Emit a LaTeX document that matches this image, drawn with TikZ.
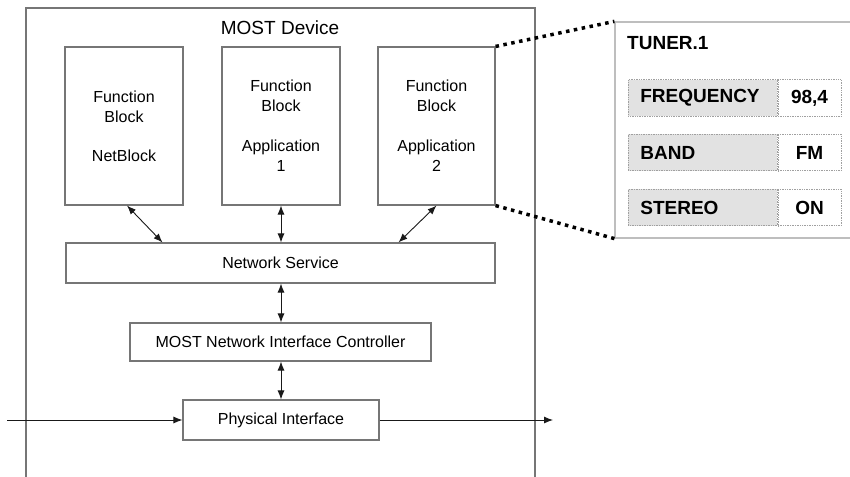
\documentclass[tikz,border=0pt]{standalone}
\usepackage{fontspec}
\setmainfont{Liberation Sans}
\usetikzlibrary{arrows.meta}
\definecolor{boxline}{RGB}{118,118,118}
\definecolor{arrowc}{RGB}{25,25,25}
\definecolor{panelline}{RGB}{190,190,190}
\definecolor{keyfill}{RGB}{226,226,226}
\definecolor{cellline}{RGB}{160,160,160}
\tikzset{
  plain/.style={font=\fontsize{16}{20}\selectfont},
  heavy/.style={font=\fontsize{19}{22}\selectfont\bfseries},
  blockbox/.style={draw=boxline, line width=1.1pt, fill=white, inner sep=0pt, align=center, plain},
  biarrow/.style={draw=arrowc, line width=0.9pt, {Latex[length=9pt,width=7pt]}-{Latex[length=9pt,width=7pt]}},
  onearrow/.style={draw=arrowc, line width=0.9pt, -{Latex[length=9pt,width=7pt]}},
  zoomline/.style={draw=black, line width=3.5pt, dash pattern=on 3.5pt off 4.5pt},
  keycell/.style={draw=cellline, densely dotted, line width=0.7pt, fill=keyfill,
    minimum height=36.5pt, inner ysep=0pt, inner xsep=12pt, text width=125pt, align=left, heavy},
  valcell/.style={draw=cellline, densely dotted, line width=0.7pt, fill=white,
    minimum width=63pt, minimum height=36.5pt, inner sep=0pt, align=center, heavy},
}
\begin{document}
\begin{tikzpicture}[x=1pt, y=-1pt]
  \clip (0,0) rectangle (850,476);

  % device frame and title
  \node[draw=boxline, line width=1.1pt, minimum width=509pt, minimum height=492pt, inner sep=0pt]
    (device) at (280.5,254) {};
  \node[font=\fontsize{19}{22}\selectfont] (title) at (280,28) {MOST Device};

  % function blocks
  \node[blockbox, minimum width=118pt, minimum height=158pt] (fb1) at (124,126)
    {Function\\Block\\[19pt]NetBlock};
  \node[blockbox, minimum width=118pt, minimum height=158pt] (fb2) at (281,126)
    {Function\\Block\\[20pt]Application\\1};
  \node[blockbox, minimum width=117pt, minimum height=158pt] (fb3) at (436.5,126)
    {Function\\Block\\[20pt]Application\\2};

  % protocol stack
  \node[blockbox, minimum width=429pt, minimum height=40pt] (ns) at (280.5,263) {Network Service};
  \node[blockbox, minimum width=301pt, minimum height=38pt] (nic) at (280.5,342) {MOST Network Interface Controller};
  \node[blockbox, minimum width=196pt, minimum height=40pt] (pi) at (281,420) {Physical Interface};

  % connections inside the device
  \draw[biarrow] ([xshift=3pt]fb1.south) -- ([xshift=-118pt]ns.north);
  \draw[biarrow] (fb2.south) -- (fb2.south |- ns.north);
  \draw[biarrow] (fb3.south) -- ([xshift=118pt]ns.north);
  \draw[biarrow] (ns.south -| pi.north) -- (nic.north -| pi.north);
  \draw[biarrow] (nic.south -| pi.north) -- (pi.north);

  % ring in / ring out
  \coordinate (ringin) at (7,420);
  \coordinate (ringout) at (553,420);
  \draw[onearrow] (ringin) -- (pi.west);
  \draw[onearrow] (pi.east) -- (ringout);

  % detail panel of the tuner function block
  \node[draw=panelline, line width=1.2pt, fill=white, minimum width=245pt, minimum height=216pt, inner sep=0pt]
    (panel) at (737.5,130) {};
  \draw[zoomline] (fb3.north east) -- (panel.north west);
  \draw[zoomline] (fb3.south east) -- (panel.south west);

  \node[heavy, anchor=west, inner sep=0pt] (tuner) at (627,43) {TUNER.1};

  \node[keycell, anchor=west] (freqk) at (628,98) {FREQUENCY};
  \node[valcell, anchor=west] (freqv) at (freqk.east) {98,4};
  \node[keycell, anchor=west] (bandk) at (628,152.5) {BAND};
  \node[valcell, anchor=west] (bandv) at (bandk.east) {FM};
  \node[keycell, anchor=west] (sterk) at (628,207.5) {STEREO};
  \node[valcell, anchor=west] (sterv) at (sterk.east) {ON};
\end{tikzpicture}
\end{document}
